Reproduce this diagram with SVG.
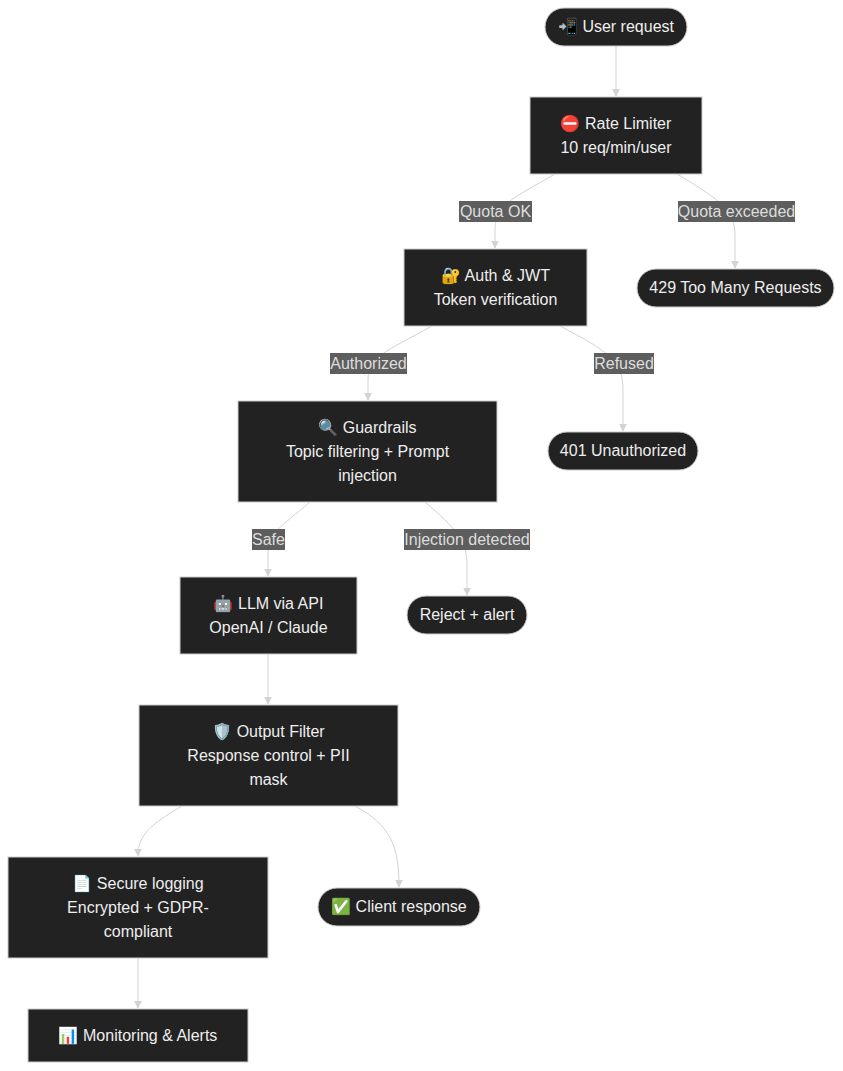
<svg xmlns="http://www.w3.org/2000/svg" width="843" height="1071" viewBox="0 0 843 1071">
<style>
.n{fill:#222;stroke:#ccc;stroke-width:1}
.t{font-family:"Liberation Sans",Arial,"Noto Color Emoji",sans-serif;font-size:16px;fill:#eee;text-anchor:middle}
.e{fill:none;stroke:#d3d3d3;stroke-width:1}
.lb{fill:#555;opacity:0.95}
.lt{font-family:"Liberation Sans",Arial,sans-serif;font-size:16px;fill:#ddd;text-anchor:middle}
</style>
<defs><marker id="a" viewBox="0 0 10 10" refX="9" refY="5" markerWidth="8" markerHeight="8" orient="auto"><path d="M0,0L10,5L0,10z" fill="#d3d3d3"/></marker></defs>
<rect width="843" height="1071" fill="#fff"/>
<g id="edges">
<path class="e" marker-end="url(#a)" d="M616,46 L616,96"/>
<path class="e" marker-end="url(#a)" d="M555,174 C510,200 495,205 495,230 L495,248"/>
<path class="e" marker-end="url(#a)" d="M677,174 C720,200 735,210 735,235 L735,268"/>
<path class="e" marker-end="url(#a)" d="M432,326 C385,352 368,357 368,380 L368,400"/>
<path class="e" marker-end="url(#a)" d="M560,326 C610,352 623,362 623,390 L623,431"/>
<path class="e" marker-end="url(#a)" d="M310,502 C280,528 268,532 268,555 L268,576"/>
<path class="e" marker-end="url(#a)" d="M425,502 C455,528 467,540 467,565 L467,595"/>
<path class="e" marker-end="url(#a)" d="M268,654 L268,704"/>
<path class="e" marker-end="url(#a)" d="M182,806 C150,825 138,835 138,856"/>
<path class="e" marker-end="url(#a)" d="M355,806 C390,825 399,845 399,887"/>
<path class="e" marker-end="url(#a)" d="M138,958 L138,1008"/>
</g>
<g id="labels">
<rect class="lb" x="459" y="201" width="73" height="21"/><text class="lt" x="495.5" y="217">Quota OK</text>
<rect class="lb" x="678" y="201" width="117" height="21"/><text class="lt" x="736.5" y="217">Quota exceeded</text>
<rect class="lb" x="330" y="353" width="77" height="21"/><text class="lt" x="368.5" y="369">Authorized</text>
<rect class="lb" x="594" y="353" width="60" height="21"/><text class="lt" x="624" y="369">Refused</text>
<rect class="lb" x="252" y="529" width="33" height="21"/><text class="lt" x="268.5" y="545">Safe</text>
<rect class="lb" x="404" y="529" width="126" height="21"/><text class="lt" x="467" y="545">Injection detected</text>
</g>
<g id="user"><rect class="n" x="545" y="8" width="142" height="38" rx="19"/><text class="t" x="616" y="32">📲 User request</text></g>
<g id="rate"><rect class="n" x="530" y="97" width="172" height="77"/><text class="t" x="616" y="129">⛔ Rate Limiter</text><text class="t" x="616" y="153">10 req/min/user</text></g>
<g id="auth"><rect class="n" x="404" y="249" width="183" height="77"/><text class="t" x="495.5" y="281">🔐 Auth &amp; JWT</text><text class="t" x="495.5" y="305">Token verification</text></g>
<g id="r429"><rect class="n" x="637" y="269" width="197" height="38" rx="19"/><text class="t" x="735.5" y="293">429 Too Many Requests</text></g>
<g id="guard"><rect class="n" x="238" y="401" width="259" height="101"/><text class="t" x="367.5" y="433">🔍 Guardrails</text><text class="t" x="367.5" y="457">Topic filtering + Prompt</text><text class="t" x="367.5" y="481">injection</text></g>
<g id="r401"><rect class="n" x="548" y="432" width="150" height="38" rx="19"/><text class="t" x="623" y="456">401 Unauthorized</text></g>
<g id="llm"><rect class="n" x="180" y="577" width="177" height="77"/><text class="t" x="268.5" y="609">🤖 LLM via API</text><text class="t" x="268.5" y="633">OpenAI / Claude</text></g>
<g id="reject"><rect class="n" x="407" y="596" width="120" height="38" rx="19"/><text class="t" x="467" y="620">Reject + alert</text></g>
<g id="outfilter"><rect class="n" x="139" y="705" width="259" height="101"/><text class="t" x="268.5" y="737">🛡️ Output Filter</text><text class="t" x="268.5" y="761">Response control + PII</text><text class="t" x="268.5" y="785">mask</text></g>
<g id="logging"><rect class="n" x="8" y="857" width="260" height="101"/><text class="t" x="138" y="889">📄 Secure logging</text><text class="t" x="138" y="913">Encrypted + GDPR-</text><text class="t" x="138" y="937">compliant</text></g>
<g id="client"><rect class="n" x="318" y="888" width="162" height="38" rx="19"/><text class="t" x="399" y="912">✅ Client response</text></g>
<g id="monitor"><rect class="n" x="28" y="1009" width="220" height="53"/><text class="t" x="138" y="1041">📊 Monitoring &amp; Alerts</text></g>
</svg>
